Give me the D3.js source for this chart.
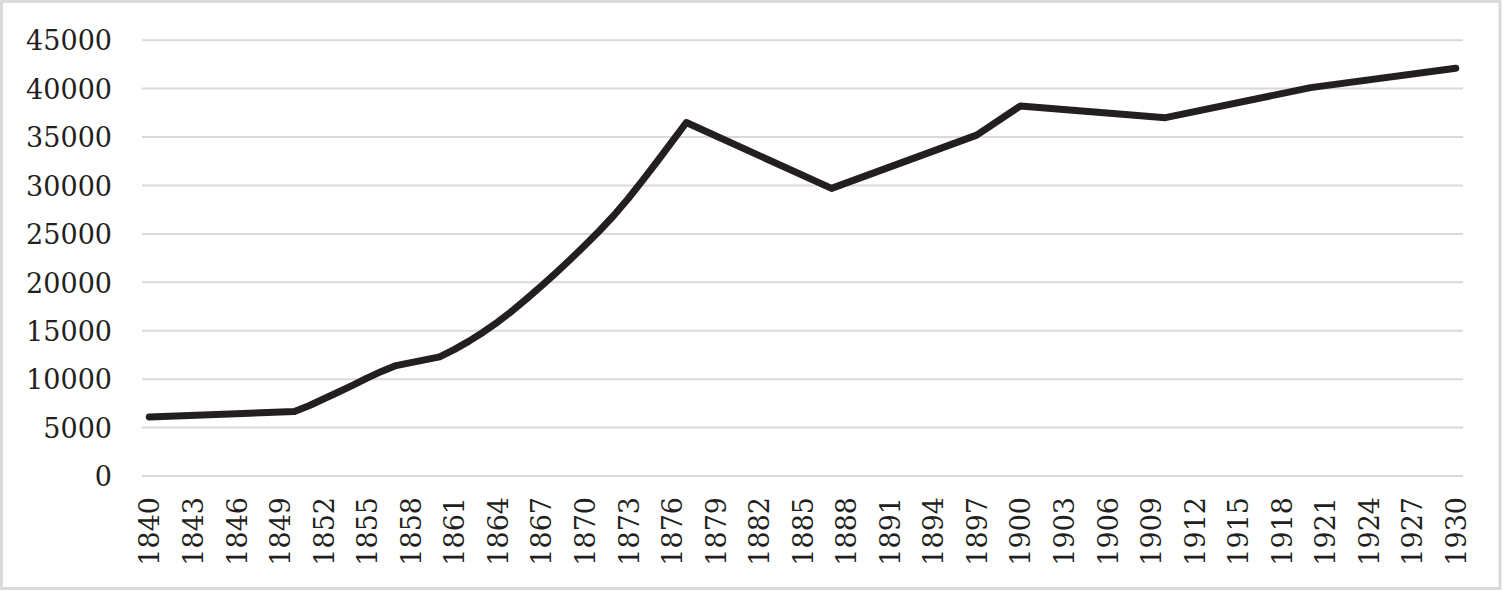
<!DOCTYPE html>
<html>
<head>
<meta charset="utf-8">
<script src="https://cdn.jsdelivr.net/npm/d3@7"></script>
<style>
  html, body { margin: 0; padding: 0; background: #fff; }
  svg { display: block; }
</style>
</head>
<body>
<svg id="chart" width="1503" height="592"></svg>
<script>
// Data
const years = [1840, 1850, 1851, 1852, 1853, 1854, 1855, 1856, 1857, 1860,
               1861, 1862, 1863, 1864, 1865, 1866, 1867, 1868, 1869, 1870,
               1871, 1872, 1873, 1874, 1875, 1876, 1877, 1887, 1897, 1900,
               1910, 1920, 1930];
const values = [6100, 6650, 7250, 7950, 8650, 9350, 10100, 10800, 11400, 12300,
                13050, 13900, 14850, 15900, 17050, 18300, 19600, 20950, 22350, 23800,
                25300, 26900, 28650, 30550, 32500, 34500, 36500, 29700, 35200, 38200,
                37000, 40100, 42100];
const yTicks = [0, 5000, 10000, 15000, 20000, 25000, 30000, 35000, 40000, 45000];
const xTickLabels = d3.range(1840, 1931, 3);

const svg = d3.select("#chart");
const W = 1503, H = 592;
const plot = { left: 142, right: 1463, top: 40.2, bottom: 476 };
const textColor = "#231f20";
const font = "'DejaVu Serif', 'Liberation Serif', serif";

// frame
svg.append("rect")
  .attr("x", 1.5).attr("y", 1.5)
  .attr("width", W - 4.5).attr("height", H - 5)
  .attr("fill", "#fff")
  .attr("stroke", "#dadada")
  .attr("stroke-width", 3);

const x = d3.scaleLinear().domain([1839.5, 1930.5]).range([plot.left, plot.right]);
const y = d3.scaleLinear().domain([0, 45000]).range([plot.bottom, plot.top]);

// gridlines
svg.append("g").selectAll("line")
  .data(yTicks)
  .join("line")
  .attr("x1", plot.left).attr("x2", plot.right)
  .attr("y1", d => y(d)).attr("y2", d => y(d))
  .attr("stroke", "#d9d9d9")
  .attr("stroke-width", 2);

// y axis
const yAxis = svg.append("g")
  .attr("transform", `translate(${plot.left},0)`)
  .call(d3.axisLeft(y).tickValues(yTicks).tickSize(0).tickPadding(30).tickFormat(d3.format("d")));
yAxis.select(".domain").remove();
yAxis.selectAll("text")
  .attr("fill", textColor)
  .style("font-family", font)
  .style("font-size", "27px")
  .attr("dy", "0.36em");

// x axis
const xAxis = svg.append("g")
  .attr("transform", `translate(0,${plot.bottom})`)
  .call(d3.axisBottom(x).tickValues(xTickLabels).tickSize(0).tickFormat(d3.format("d")));
xAxis.select(".domain").remove();
xAxis.selectAll("text")
  .attr("fill", textColor)
  .style("font-family", font)
  .style("font-size", "27px")
  .attr("text-anchor", "end")
  .attr("transform", "rotate(-90)")
  .attr("x", -21)
  .attr("y", 0)
  .attr("dy", "0.36em");

// line
const pts = years.map((yr, i) => [yr, values[i]]);
svg.append("path")
  .datum(pts)
  .attr("fill", "none")
  .attr("stroke", textColor)
  .attr("stroke-width", 7)
  .attr("stroke-linejoin", "round")
  .attr("stroke-linecap", "round")
  .attr("d", d3.line().x(d => x(d[0])).y(d => y(d[1])));
</script>
</body>
</html>
